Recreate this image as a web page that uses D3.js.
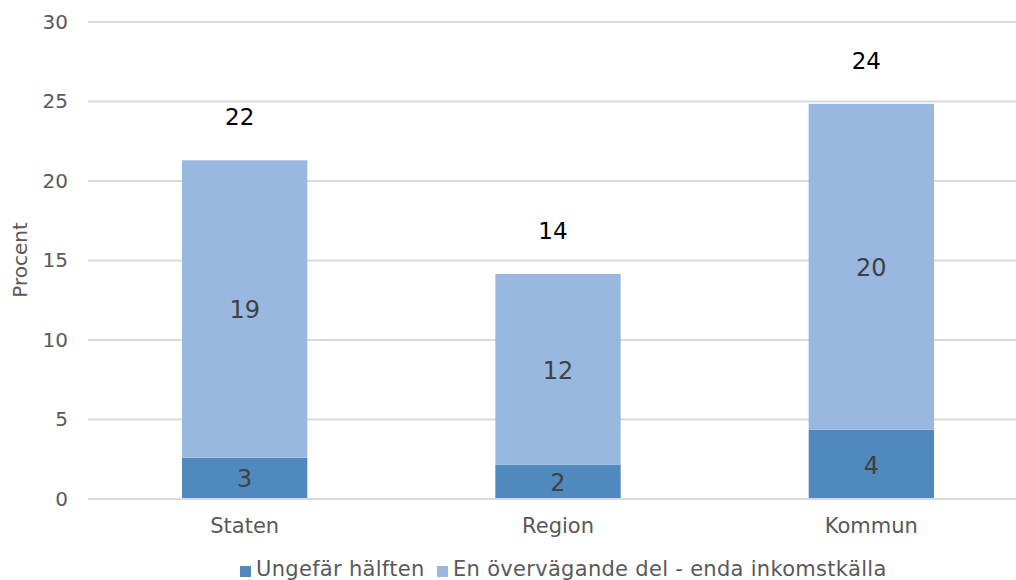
<!DOCTYPE html>
<html>
<head>
<meta charset="utf-8">
<script src="https://d3js.org/d3.v7.min.js"></script>
<style>
  body { margin: 0; background: #fff; }
  svg text { font-family: "DejaVu Sans", Verdana, sans-serif; }
</style>
</head>
<body>
<div id="chart"></div>
<script>
  // chart data
  var categories = ["Staten", "Region", "Kommun"];
  var halfValues = [2.6, 2.15, 4.35];
  var mainValues = [18.7, 12.0, 20.5];
  var halfLabels = ["3", "2", "4"];
  var mainLabels = ["19", "12", "20"];
  var totalLabels = ["22", "14", "24"];
  var seriesNames = ["Ungefär hälften", "En övervägande del - enda inkomstkälla"];
  var yTicks = [0, 5, 10, 15, 20, 25, 30];

  var width = 1016, height = 580;
  var colors = ["#4f89bd", "#98b8df"];

  var svg = d3.select("#chart")
    .append("svg")
      .attr("width", width)
      .attr("height", height);

  var x = d3.scaleBand()
    .domain(categories)
    .range([88, 1028])
    .paddingInner(0.6)
    .paddingOuter(0.3);

  var y = d3.scaleLinear()
    .domain([0, 30])
    .range([499, 22]);

  // gridlines
  svg.append("g")
    .selectAll("line")
    .data(yTicks)
    .enter().append("line")
      .attr("x1", 88)
      .attr("x2", width)
      .attr("y1", function(d) { return y(d); })
      .attr("y2", function(d) { return y(d); })
      .attr("stroke", "#d9d9d9")
      .attr("stroke-width", 2);

  // y axis labels
  var yAxis = svg.append("g")
    .attr("transform", "translate(68,0)")
    .call(d3.axisLeft(y).tickValues(yTicks).tickSize(0).tickPadding(0));
  yAxis.select(".domain").remove();
  yAxis.selectAll("text")
    .attr("fill", "#595959")
    .style("font-size", "20px");

  svg.append("text")
    .attr("transform", "translate(27,260) rotate(-90)")
    .attr("text-anchor", "middle")
    .attr("fill", "#595959")
    .style("font-size", "20px")
    .text("Procent");

  // stacked bars
  var rows = categories.map(function(c, i) {
    return { cat: c, half: halfValues[i], main: mainValues[i] };
  });
  var stack = d3.stack().keys(["half", "main"])(rows);
  var segLabels = [halfLabels, mainLabels];

  stack.forEach(function(layer, k) {
    var g = svg.append("g");
    g.selectAll("rect")
      .data(layer)
      .enter().append("rect")
        .attr("x", function(d) { return x(d.data.cat); })
        .attr("width", x.bandwidth())
        .attr("y", function(d) { return y(d[1]); })
        .attr("height", function(d) { return y(d[0]) - y(d[1]); })
        .attr("fill", colors[k]);
    g.selectAll("text")
      .data(layer)
      .enter().append("text")
        .attr("x", function(d) { return x(d.data.cat) + x.bandwidth() / 2; })
        .attr("y", function(d) { return (y(d[0]) + y(d[1])) / 2; })
        .attr("dy", "0.38em")
        .attr("text-anchor", "middle")
        .attr("fill", "#404040")
        .style("font-size", "24px")
        .text(function(d, i) { return segLabels[k][i]; });
  });

  // totals above bars
  svg.append("g")
    .selectAll("text")
    .data(stack[1])
    .enter().append("text")
      .attr("x", function(d) { return x(d.data.cat) + x.bandwidth() / 2 - 5; })
      .attr("y", function(d) { return y(d[1]) - 35; })
      .attr("text-anchor", "middle")
      .attr("fill", "#000")
      .style("font-size", "23px")
      .text(function(d, i) { return totalLabels[i]; });

  // baseline
  svg.append("line")
    .attr("x1", 88).attr("x2", width)
    .attr("y1", y(0)).attr("y2", y(0))
    .attr("stroke", "#d9d9d9")
    .attr("stroke-width", 2);

  // x axis labels
  var xAxis = svg.append("g")
    .attr("transform", "translate(0," + y(0) + ")")
    .call(d3.axisBottom(x).tickSize(0).tickPadding(19));
  xAxis.select(".domain").remove();
  xAxis.selectAll("text")
    .attr("fill", "#595959")
    .style("font-size", "21px");

  // legend
  var legend = svg.append("g");
  var lx = [240, 437];
  seriesNames.forEach(function(name, i) {
    legend.append("rect")
      .attr("x", lx[i])
      .attr("y", 566)
      .attr("width", 11)
      .attr("height", 11)
      .attr("fill", colors[i]);
    legend.append("text")
      .attr("x", lx[i] + 16)
      .attr("y", 576)
      .attr("fill", "#595959")
      .style("font-size", "21px")
      .style("letter-spacing", "0.3px")
      .text(name);
  });
</script>
</body>
</html>
